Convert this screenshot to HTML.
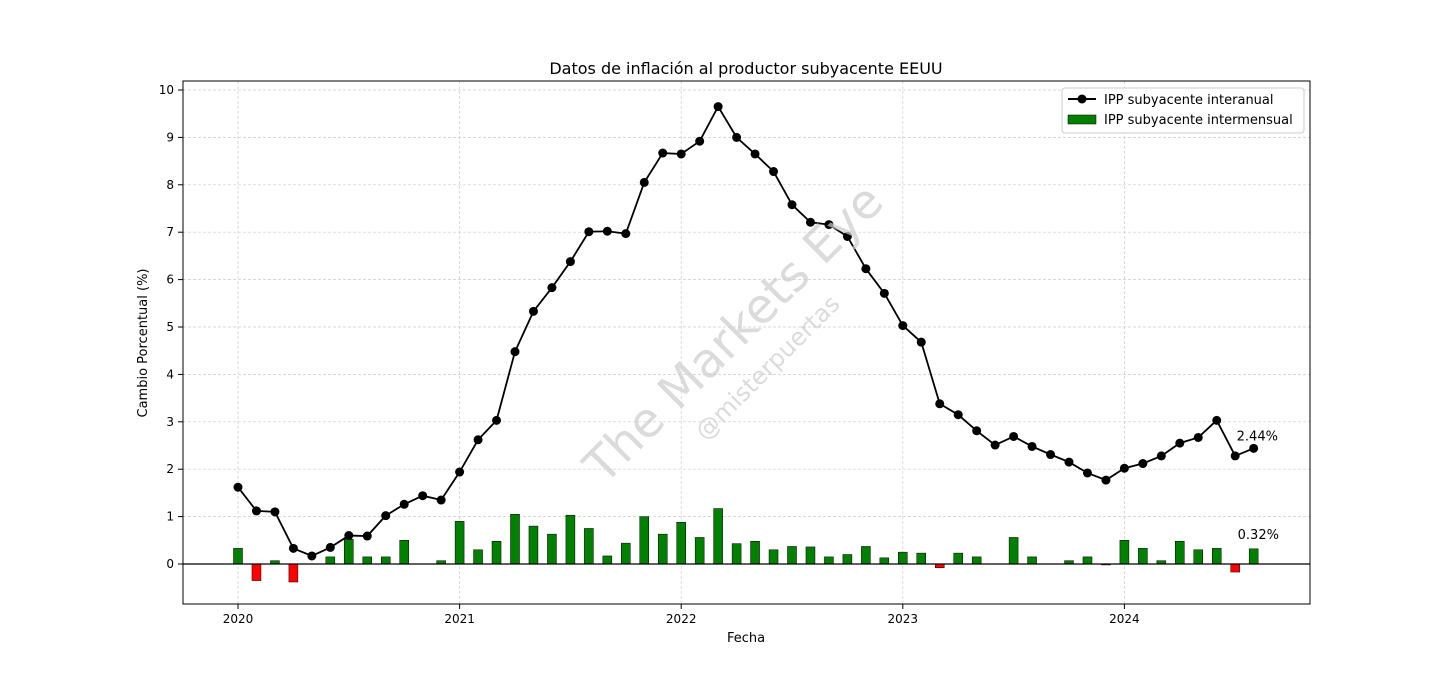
<!DOCTYPE html>
<html><head><meta charset="utf-8"><style>
body{margin:0;background:#fff;font-family:"Liberation Sans","DejaVu Sans",sans-serif}
svg text{font-family:"DejaVu Sans","Liberation Sans",sans-serif}
</style></head><body>
<svg id="c" width="1456" height="679" xmlns="http://www.w3.org/2000/svg">
<rect width="1456" height="679" fill="#fff"/>
<text x="746" y="74" font-size="16" text-anchor="middle">Datos de inflación al productor subyacente EEUU</text>
<text x="746" y="642" font-size="13" text-anchor="middle">Fecha</text>
<text transform="translate(147,343) rotate(-90)" font-size="13" text-anchor="middle">Cambio Porcentual (%)</text>
<g id="grid"></g><g id="bars"></g><g id="line"></g><g id="ticks"></g>
<g transform="translate(745,345) rotate(-45)" fill="#ccc" opacity="0.7">
<text x="0" y="0" font-size="48" text-anchor="middle">The Markets Eye</text>
<text x="0" y="40" font-size="24" text-anchor="middle">@misterpuertas</text></g>
<rect x="183" y="81" width="1127" height="523" fill="none" stroke="#000"/>
<g>
<rect x="1062" y="88" width="242" height="45" fill="#fff" stroke="#ccc" rx="3"/>
<line x1="1068" y1="99" x2="1096" y2="99" stroke="#000" stroke-width="2"/>
<circle cx="1082" cy="99" r="4.5"/>
<text x="1104" y="104" font-size="13">IPP subyacente interanual</text>
<rect x="1068" y="115" width="28" height="9" fill="green" stroke="#000" stroke-width="0.5"/>
<text x="1104" y="124" font-size="13">IPP subyacente intermensual</text></g>
</svg>
<script>
const yoy=[1.62,1.12,1.10,0.33,0.17,0.35,0.60,0.59,1.02,1.26,1.44,1.35,
1.94,2.62,3.03,4.48,5.33,5.83,6.38,7.01,7.02,6.97,8.05,8.67,
8.65,8.92,9.65,9.00,8.65,8.28,7.58,7.21,7.16,6.91,6.23,5.71,
5.03,4.68,3.38,3.15,2.81,2.51,2.69,2.48,2.31,2.15,1.92,1.77,
2.02,2.12,2.28,2.55,2.67,3.03,2.28,2.44];
const mom=[0.33,-0.35,0.07,-0.38,0,0.15,0.52,0.15,0.15,0.50,0,0.07,
0.90,0.30,0.48,1.05,0.80,0.63,1.03,0.75,0.17,0.44,1.00,0.63,
0.88,0.56,1.17,0.43,0.48,0.30,0.37,0.36,0.15,0.20,0.37,0.13,
0.25,0.23,-0.08,0.23,0.15,0,0.56,0.15,0,0.07,0.15,-0.02,
0.50,0.33,0.07,0.48,0.30,0.33,-0.17,0.32];
const yTicks=[0,1,2,3,4,5,6,7,8,9,10];
const xYears=[2020,2021,2022,2023,2024];
const NS='http://www.w3.org/2000/svg';
const X=i=>238+i*(221.6/12), Y=v=>564-v*47.4;
function mk(t,a,p){const e=document.createElementNS(NS,t);for(const k in a)e.setAttribute(k,a[k]);p.appendChild(e);return e;}
const g=document.getElementById('grid'),tk=document.getElementById('ticks');
yTicks.forEach(v=>{
 const l=mk('line',{x1:183,x2:1310,y1:Y(v),y2:Y(v),stroke:'#ccc','stroke-dasharray':'3,2','stroke-width':0.7},g);
 
 
 mk('line',{x1:178,x2:183,y1:Y(v),y2:Y(v),stroke:'#000'},tk);
 const t=mk('text',{x:174,y:Y(v)+4,'font-size':12,'text-anchor':'end'},tk);t.textContent=v;
 
 
});
xYears.forEach((yr,k)=>{
 const x=X(k*12);
 const l=mk('line',{x1:x,x2:x,y1:81,y2:604,stroke:'#ccc','stroke-dasharray':'3,2','stroke-width':0.7},g);
 
 
 mk('line',{x1:x,x2:x,y1:604,y2:609,stroke:'#000'},tk);
 const t=mk('text',{x:x,y:623,'font-size':12,'text-anchor':'middle'},tk);t.textContent=yr;
 
 
});
const b=document.getElementById('bars');
mom.forEach((v,i)=>{
 const r=mk('rect',{x:X(i)-4.5,y:Math.min(Y(v),Y(0)),width:9,height:Math.abs(Y(v)-Y(0)),fill:v<0?'red':'green',stroke:'#000','stroke-width':0.5},b);
 
 
});
const z=mk('line',{x1:183,x2:1310,y1:Y(0),y2:Y(0),stroke:'#000','stroke-width':1.2},b);


const ln=document.getElementById('line');
const p=mk('polyline',{points:yoy.map((v,i)=>X(i)+','+Y(v)).join(' '),fill:'none',stroke:'#000','stroke-width':1.8},ln);


yoy.forEach((v,i)=>{
 const c=mk('circle',{cx:X(i),cy:Y(v),r:4.5,fill:'#000'},ln);
 
 
});
const n=yoy.length-1;
const a1=mk('text',{x:X(n)-17,y:Y(yoy[n])-8,'font-size':13},ln);a1.textContent=yoy[n].toFixed(2)+'%';


const m=mom.length-1;
const a2=mk('text',{x:X(m)-16,y:Y(mom[m])-10,'font-size':13},ln);a2.textContent=mom[m].toFixed(2)+'%';


</script>
</body></html>
